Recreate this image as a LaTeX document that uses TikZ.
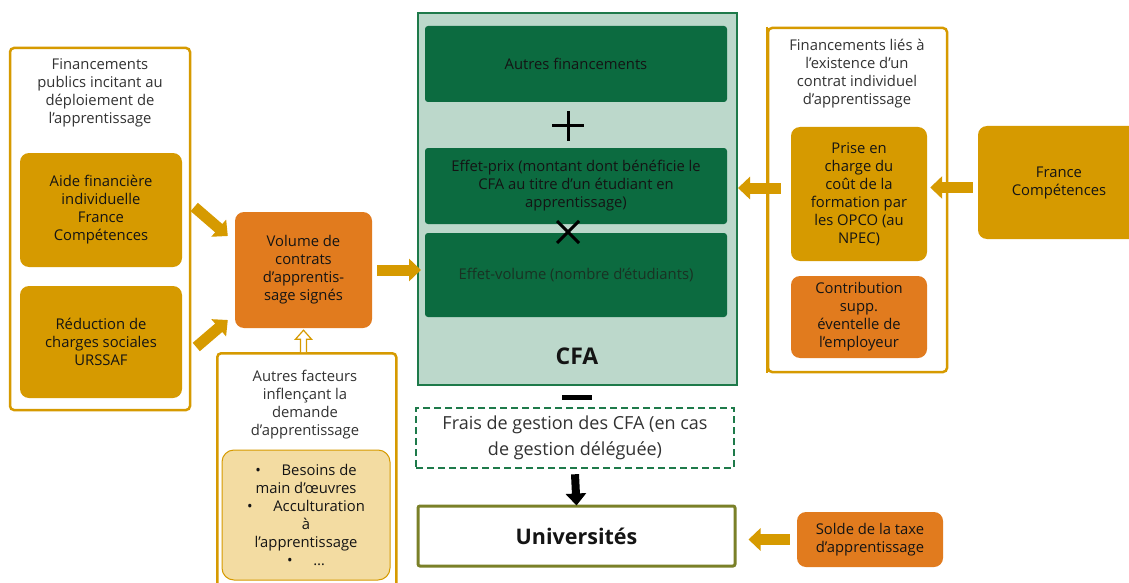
\documentclass[tikz,border=0pt]{standalone}
\usepackage{fontspec}
\setmainfont{Open Sans}
\usetikzlibrary{arrows.meta,calc}
\definecolor{gold}{RGB}{214,154,0}
\definecolor{orng}{RGB}{225,123,30}
\definecolor{dkgreen}{RGB}{12,107,64}
\definecolor{ltgreen}{RGB}{188,216,203}
\definecolor{bgreen}{RGB}{30,122,74}
\definecolor{tanfill}{RGB}{243,220,162}
\definecolor{olive}{RGB}{122,128,40}
\definecolor{txt}{RGB}{20,20,20}
\definecolor{ttl}{RGB}{50,50,50}
\definecolor{dimtxt}{RGB}{25,50,35}
\begin{document}
\begin{tikzpicture}[x=1pt,y=-1pt,
  font=\fontsize{14.8}{18}\selectfont,
  panel/.style={draw=gold, line width=2.5pt, rounded corners=4pt, fill=white, inner sep=0pt},
  ttltext/.style={text=ttl, align=center, inner sep=0pt},
  goldbox/.style={fill=gold, rounded corners=9pt, text=txt, align=center, inner sep=0pt},
  orangebox/.style={fill=orng, rounded corners=9pt, text=txt, align=center, inner sep=0pt},
  greenbox/.style={fill=dkgreen, rounded corners=3pt, text=txt, align=center, inner sep=0pt},
  goldarrow/.style={draw=gold, line width=11pt, -{Triangle[width=22pt,length=12pt]}},
  blackarrow/.style={draw=black, line width=8pt, -{Triangle[width=20pt,length=12pt]}}
]
\clip (0,0) rectangle (1129,583);
\fill[white] (0,0) rectangle (1129,583);

% ---------- left panel ----------
\node[panel, minimum width=180pt, minimum height=362pt] (leftpanel) at (100,229) {};
\node[ttltext] (lefttitle) at (100,93) {Financements\\publics incitant au\\déploiement de\\l’apprentissage};
\node[goldbox, minimum width=162pt, minimum height=114pt] (aide) at (101,210)
  {Aide financière\\individuelle\\France\\Compétences};
\node[goldbox, minimum width=162pt, minimum height=112pt] (reduc) at (101,342)
  {Réduction de\\charges sociales\\URSSAF};

% ---------- volume ----------
\node[orangebox, minimum width=137pt, minimum height=116pt] (volume) at (303.5,270)
  {Volume de\\contrats\\d’apprentis-\\sage signés};

% ---------- autres facteurs ----------
\node[panel, minimum width=179pt, minimum height=248pt, anchor=north west] (facteurs) at (216,352) {};
\node[ttltext] (factitle) at (305,405) {Autres facteurs\\inflençant la\\demande\\d’apprentissage};
\node[draw=gold, line width=1pt, fill=tanfill, rounded corners=12pt, minimum width=168pt,
      minimum height=130pt, text=txt, align=center, inner sep=0pt] (besoins) at (306,515)
  {\textbullet\hspace{1.4em}Besoins de\\main d’œuvres\\\textbullet\hspace{1.4em}Acculturation\\à\\l’apprentissage\\\textbullet\hspace{1.4em}…};

% ---------- CFA ----------
\node[draw=bgreen, fill=ltgreen, line width=2pt, minimum width=319pt, minimum height=372pt,
      inner sep=0pt] (cfa) at (577.5,199) {};
\node[greenbox, minimum width=302pt, minimum height=76pt] (autresfin) at (576,64) {Autres financements};
\node[greenbox, minimum width=302pt, minimum height=76pt] (prix) at (576,186)
  {Effet-prix (montant dont bénéficie le\\CFA au titre d’un étudiant en\\apprentissage)};
\node[greenbox, minimum width=302pt, minimum height=84pt, text=dimtxt] (effvol) at (576,275)
  {Effet-volume (nombre d’étudiants)};
\node[font=\fontsize{23}{26}\selectfont\bfseries, text=txt, inner sep=0pt] (cfalabel) at (577,356) {CFA};
\node[inner sep=0pt, minimum size=1pt] (plus) at (568,126) {};
\draw[line width=3pt, black] ($(plus)+(-16,0)$) -- ($(plus)+(16,0)$) ($(plus)+(0,-15)$) -- ($(plus)+(0,15)$);
\node[inner sep=0pt, minimum size=1pt] (times) at (568,232) {};
\draw[line width=3pt, black] ($(times)+(-11,-11)$) -- ($(times)+(11,11)$) ($(times)+(-11,11)$) -- ($(times)+(11,-11)$);
\node[fill=black, minimum width=30pt, minimum height=5pt, inner sep=0pt] (minus) at (577,397.5) {};

% ---------- frais / universites ----------
\node[draw=bgreen, line width=2.5pt, dash pattern=on 7pt off 4pt, minimum width=318pt, minimum height=60pt,
      font=\fontsize{18}{26}\selectfont, text=ttl, align=center, inner sep=0pt] (frais) at (575,438)
  {Frais de gestion des CFA (en cas\\de gestion déléguée)};
\node[draw=olive, line width=3pt, rounded corners=2pt, minimum width=317pt, minimum height=60pt,
      font=\fontsize{21.5}{24}\selectfont\bfseries, text=txt, inner sep=0pt] (univ) at (576.5,536) {Universités};
\node[orangebox, minimum width=146pt, minimum height=55pt] (solde) at (870,539.5)
  {Solde de la taxe\\d’apprentissage};

% ---------- right panel ----------
\node[panel, minimum width=179pt, minimum height=344pt] (rightpanel) at (857.5,200) {};
\node[ttltext] (righttitle) at (857,73.5) {Financements liés à\\l’existence d’un\\contrat individuel\\d’apprentissage};
\node[goldbox, minimum width=136pt, minimum height=134pt] (prise) at (859,194)
  {Prise en\\charge du\\coût de la\\formation par\\les OPCO (au\\NPEC)};
\node[orangebox, minimum width=136pt, minimum height=82pt] (contrib) at (859,317)
  {Contribution\\supp.\\éventelle de\\l’employeur};
\node[goldbox, minimum width=162pt, minimum height=113pt] (fc) at (1059,182.5)
  {France\\Compétences};

% ---------- arrows ----------
\draw[goldarrow] ($(leftpanel.east)+(3,-22)$) -- ($(volume.west)+(-7,-34)$);
\draw[goldarrow] ($(leftpanel.east)+(5,118)$) -- ($(volume.west)+(-7,50)$);
\draw[goldarrow] ([xshift=5pt]volume.east) -- ($(volume.east -| cfa.west)+(4,0)$);
\draw[goldarrow] ($(fc.west)+(-5,5)$) -- ($(fc.west -| prise.east)+(3,5)$);
\draw[goldarrow] ($(prise.west)+(-10,-6)$) -- ($(prise.west -| cfa.east)+(0,-6)$);
\draw[draw=gold, line width=2.5pt] (rightpanel.north west) -- (rightpanel.south west);
\draw[goldarrow] ([xshift=-7pt]solde.west) -- ($(solde.west -| univ.east)+(12,0)$);
\draw[blackarrow] ([yshift=-5pt]frais.south) -- ([yshift=-1pt]univ.north);
% hollow arrow from facteurs to volume
\draw[draw=gold, fill=white, line width=1.2pt, line join=miter]
  ($(volume.south)+(-3,24)$) -- ($(volume.south)+(-3,11)$) -- ($(volume.south)+(-8,11)$)
  -- ($(volume.south)+(0,2)$) -- ($(volume.south)+(8,11)$) -- ($(volume.south)+(3,11)$)
  -- ($(volume.south)+(3,24)$);
\end{tikzpicture}
\end{document}
